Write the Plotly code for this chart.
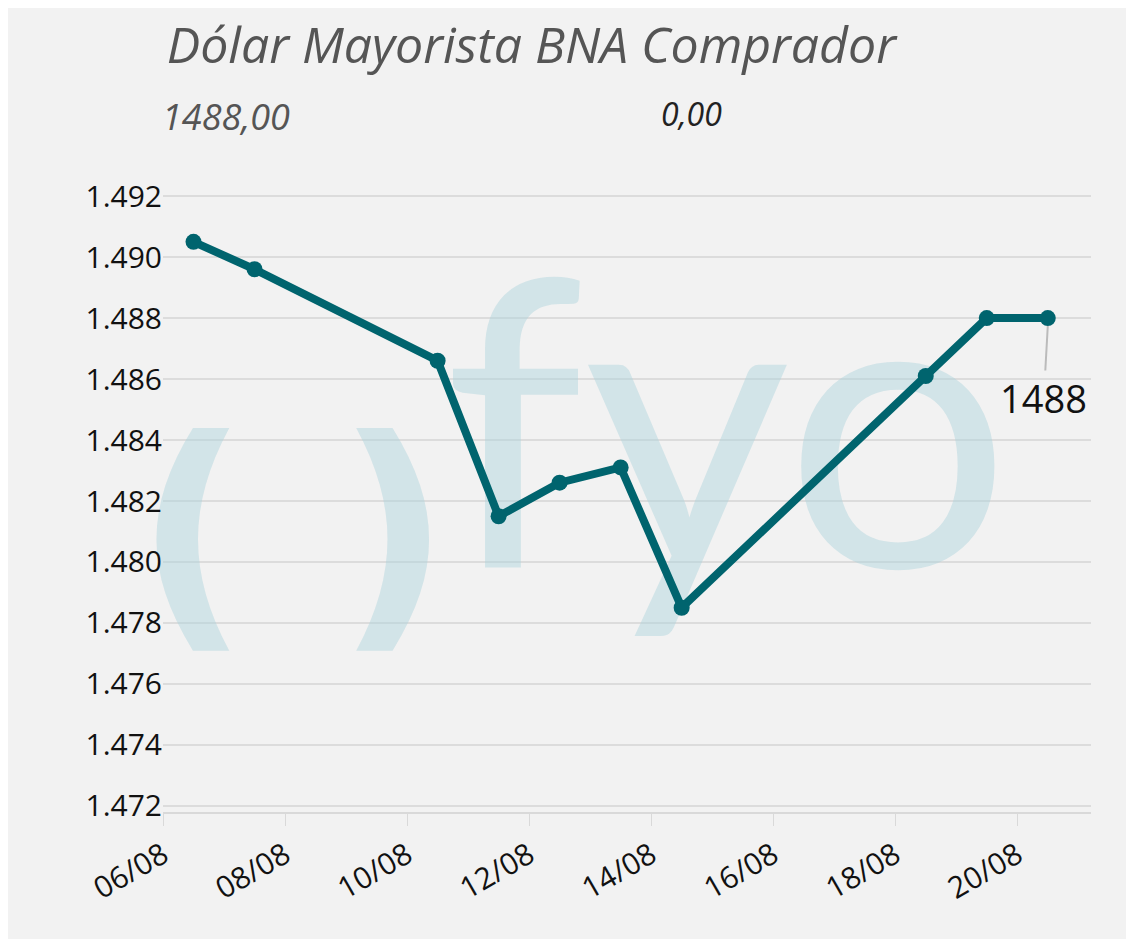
import plotly.graph_objects as go

dates = ["2025-08-06 12:00","2025-08-07 12:00","2025-08-10 12:00","2025-08-11 12:00",
         "2025-08-12 12:00","2025-08-13 12:00","2025-08-14 12:00","2025-08-18 12:00",
         "2025-08-19 12:00","2025-08-20 12:00"]
values = [1490.5, 1489.6, 1486.6, 1481.5, 1482.6, 1483.1, 1478.5, 1486.1, 1488.0, 1488.0]
tick_vals = ["2025-08-06","2025-08-08","2025-08-10","2025-08-12","2025-08-14","2025-08-16","2025-08-18","2025-08-20"]
tick_text = ["06/08","08/08","10/08","12/08","14/08","16/08","18/08","20/08"]
title = "Dólar Mayorista BNA Comprador"
last_value = "1488,00"
change = "0,00"

wm = "rgba(170,210,220,0.45)"
fig = go.Figure()
fig.add_trace(go.Scatter(x=["2025-08-15 06:00"], y=[1483.1], mode="text", text=["fyo"],
                         textfont=dict(size=400, color=wm, family="Lato"), hoverinfo="skip",
                         cliponaxis=False))
fig.add_trace(go.Scatter(x=["2025-08-08 03:00"], y=[1480.2], mode="text", text=["<b>( )</b>"],
                         textfont=dict(size=250, color=wm, family="DejaVu Sans"), hoverinfo="skip",
                         cliponaxis=False))
fig.add_trace(go.Scatter(x=dates, y=values, mode="lines+markers",
                         line=dict(color="#00646e", width=8),
                         marker=dict(size=16, color="#00646e")))
fig.add_annotation(x=dates[-1], y=values[-1], text=str(int(values[-1])), showarrow=True,
                   arrowhead=0, arrowcolor="#bbbbbb", arrowwidth=2, ax=-4, ay=72,
                   font=dict(size=38, color="#111", family="Open Sans"), yshift=-8)
fig.add_annotation(xref="paper", yref="paper", x=-0.003, y=1.0, yshift=100, text=f"<i>{last_value}</i>",
                   showarrow=False, xanchor="left", font=dict(size=36, color="#555", family="Open Sans"))
fig.add_annotation(xref="paper", yref="paper", x=0.535, y=1.0, yshift=100, text=f"<i>{change}</i>",
                   showarrow=False, xanchor="left", font=dict(size=32, color="#222", family="Open Sans"))

fig.update_layout(
    width=1134, height=939, paper_bgcolor="#f2f2f2", plot_bgcolor="#f2f2f2",
    separators=",.", showlegend=False,
    margin=dict(l=155, r=51, t=182, b=135),
    title=dict(text=f"<i>{title}</i>", x=0.14, xanchor="left", y=0.96, yanchor="middle",
               font=dict(size=50, color="#555", family="Open Sans")),
    xaxis=dict(range=["2025-08-06", "2025-08-21 05:00"], tickvals=tick_vals, ticktext=tick_text,
               tickangle=-30, showgrid=False, showline=True, linecolor="#d9d9d9", linewidth=2,
               ticks="outside", ticklen=12, tickcolor="#d9d9d9",
               tickfont=dict(size=30, color="#111", family="Open Sans")),
    yaxis=dict(range=[1471.8, 1492.2], tick0=1472, dtick=2, tickformat=",d",
               gridcolor="#dcdcdc", gridwidth=2, zeroline=False,
               tickfont=dict(size=30, color="#111", family="Open Sans")),
)
fig.write_html("out.html")
